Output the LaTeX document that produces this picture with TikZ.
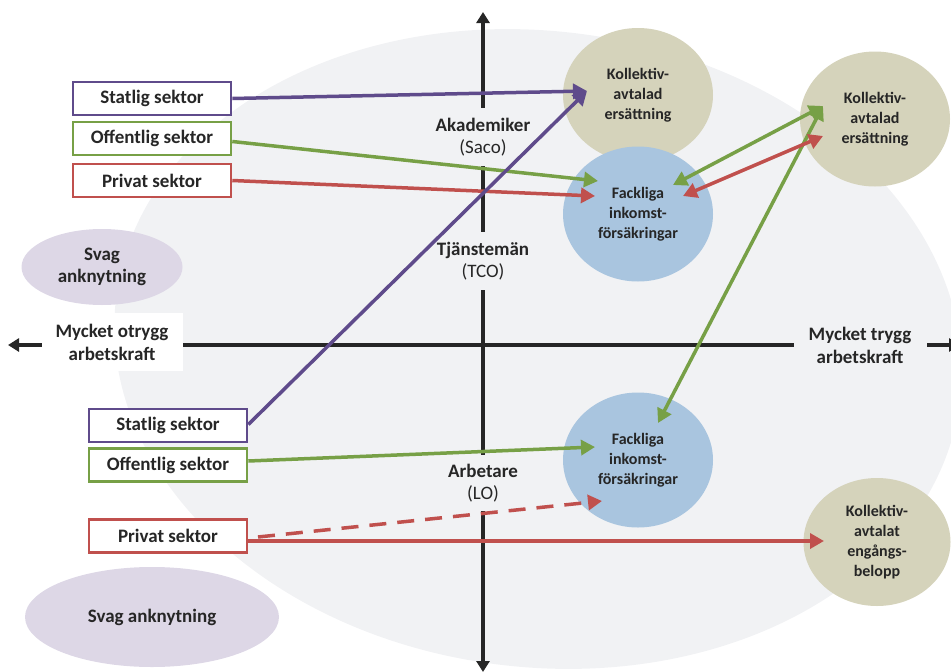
\documentclass[tikz,border=0pt]{standalone}
\usepackage{fontspec}
\setmainfont{Carlito}
\usetikzlibrary{arrows.meta,shapes.geometric}
\definecolor{bgc}{HTML}{F1F2F4}
\definecolor{purp}{HTML}{5F4B8B}
\definecolor{grn}{HTML}{77A046}
\definecolor{rd}{HTML}{C0504D}
\definecolor{beige}{HTML}{D5D3BB}
\definecolor{lblue}{HTML}{A9C5DF}
\definecolor{lav}{HTML}{DDD7E6}
\definecolor{txt}{HTML}{262626}
\tikzset{
  sektor/.style={draw, line width=2.6pt, fill=white, minimum width=158pt, minimum height=33pt,
    inner sep=0pt, font=\fontsize{19}{22}\selectfont\bfseries, text=txt},
  blob/.style={ellipse, inner sep=0pt, align=center, text=txt,
    font=\fontsize{16}{20}\selectfont\bfseries},
  axlabel/.style={align=center, text=txt, font=\fontsize{19}{22}\selectfont, inner sep=2pt},
  arr/.style={line width=3.5pt, -{Triangle[length=14pt,width=15pt]}},
  darr/.style={line width=3.5pt, {Triangle[length=14pt,width=15pt]}-{Triangle[length=14pt,width=15pt]}},
  axis/.style={line width=4pt, draw=txt, {Triangle[length=11pt,width=13pt]}-{Triangle[length=11pt,width=13pt]}}
}
\begin{document}
\begin{tikzpicture}[x=1pt,y=-1pt]
\useasboundingbox (0,0) rectangle (951,672);
\clip (0,0) rectangle (951,672);
% background region
\fill[bgc, rotate around={-7:(538,349)}] (538,349) ellipse [x radius=425pt, y radius=318pt];
% axes
\draw[axis] (483,672) -- (483,12);
\draw[axis] (8,345) -- (960,345);
% axis labels
\node[axlabel, fill=bgc, minimum height=58pt] (aka) at (483,137) {\textbf{Akademiker}\\(Saco)};
\node[axlabel, fill=bgc, minimum height=58pt] (tjm) at (483,261) {\textbf{Tjänstemän}\\(TCO)};
\node[axlabel, fill=bgc, minimum height=56pt] (arb) at (483,483) {\textbf{Arbetare}\\(LO)};
\node[axlabel, fill=white, minimum width=141pt, minimum height=58pt, font=\fontsize{19}{23}\selectfont\bfseries] (otr) at (112,342) {Mycket otrygg\\arbetskraft};
\node[axlabel, fill=bgc, minimum width=133pt, minimum height=58pt, font=\fontsize{19}{23}\selectfont\bfseries] (tryg) at (860,345) {Mycket trygg\\arbetskraft};
% blobs
\node[blob, fill=lav, minimum width=161pt, minimum height=76pt, font=\fontsize{19}{22}\selectfont\bfseries] (svag1) at (102,267) {Svag\\anknytning};
\node[blob, fill=lav, minimum width=254pt, minimum height=100pt, font=\fontsize{19}{22}\selectfont\bfseries] (svag2) at (152,617) {Svag anknytning};
\node[blob, fill=beige, minimum width=150pt, minimum height=134pt] (kol1) at (638,95) {Kollektiv-\\avtalad\\ersättning};
\node[blob, fill=lblue, minimum width=150pt, minimum height=135pt] (fack1) at (638,214) {Fackliga\\inkomst-\\försäkringar};
\node[blob, fill=beige, minimum width=150pt, minimum height=135pt] (kol2) at (875,119) {Kollektiv-\\avtalad\\ersättning};
\node[blob, fill=lblue, minimum width=150pt, minimum height=135pt] (fack2) at (638,460) {Fackliga\\inkomst-\\försäkringar};
\node[blob, fill=beige, minimum width=147pt, minimum height=128pt] (kol3) at (877,542) {Kollektiv-\\avtalat\\engångs-\\belopp};
% sector boxes
\node[sektor, draw=purp] (st1) at (152,98.5) {Statlig sektor};
\node[sektor, draw=grn] (of1) at (152,138.5) {Offentlig sektor};
\node[sektor, draw=rd] (pr1) at (152,180.5) {Privat sektor};
\node[sektor, draw=purp] (st2) at (168,425.5) {Statlig sektor};
\node[sektor, draw=grn] (of2) at (168,465) {Offentlig sektor};
\node[sektor, draw=rd] (pr2) at (168,536) {Privat sektor};
% end points inside blobs
\coordinate (k1a) at (587,91);
\coordinate (f1g) at (598,181);
\coordinate (f1r) at (595,196);
\coordinate (f1gr) at (673,185);
\coordinate (f1rr) at (683,196);
\coordinate (k2g) at (823,106);
\coordinate (k2r) at (823,136);
\coordinate (f2top) at (658,423);
\coordinate (f2g) at (595,447);
\coordinate (f2r) at (602,501);
\coordinate (k3r) at (824,541);
\coordinate (pr2d) at (258,537);
\coordinate (pr2s) at (248,541);
% connectors
\draw[arr, purp] (st1.east) -- (k1a);
\draw[arr, grn] (of1.east) ++(0,3) -- (f1g);
\draw[arr, rd] (pr1.east) -- (f1r);
\draw[darr, grn] (f2top) -- (k2g);
\draw[darr, grn] (f1gr) -- (k2g);
\draw[darr, rd] (f1rr) -- (k2r);
\draw[arr, purp] (st2.east) ++(0,-1) -- (k1a);
\draw[arr, grn] (of2.east) ++(0,-4) -- (f2g);
\draw[arr, rd, dash pattern=on 17pt off 11pt] (pr2d) -- (f2r);
\draw[arr, rd] (pr2s) -- (k3r);
% redraw boxes on top of line starts
\node[sektor, draw=purp] at (st1) {Statlig sektor};
\node[sektor, draw=grn] at (of1) {Offentlig sektor};
\node[sektor, draw=rd] at (pr1) {Privat sektor};
\node[sektor, draw=purp] at (st2) {Statlig sektor};
\node[sektor, draw=grn] at (of2) {Offentlig sektor};
\node[sektor, draw=rd] at (pr2) {Privat sektor};
\end{tikzpicture}
\end{document}
